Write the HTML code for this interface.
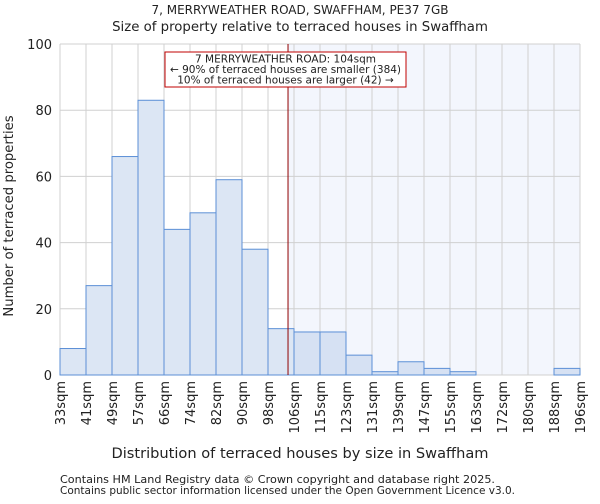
<!DOCTYPE html>
<html><head><meta charset="utf-8"><style>
body{margin:0;background:#fff;font-family:"DejaVu Sans","Liberation Sans",sans-serif;}
svg text{font-family:"DejaVu Sans","Liberation Sans",sans-serif;fill:#222;}
</style></head><body>
<svg id="chart" width="600" height="500" xmlns="http://www.w3.org/2000/svg">
<text x="300" y="14" text-anchor="middle" font-size="12">7, MERRYWEATHER ROAD, SWAFFHAM, PE37 7GB</text>
<text x="300" y="31" text-anchor="middle" font-size="13.3">Size of property relative to terraced houses in Swaffham</text>
<g id="plot"></g>
<text x="300" y="458" text-anchor="middle" font-size="14.6">Distribution of terraced houses by size in Swaffham</text>
<text transform="translate(13,216) rotate(-90)" text-anchor="middle" font-size="13.2">Number of terraced properties</text>
<text x="60" y="483" font-size="10.5" fill="#444" textLength="435" lengthAdjust="spacingAndGlyphs">Contains HM Land Registry data © Crown copyright and database right 2025.</text>
<text x="60" y="494" font-size="10.5" fill="#444" textLength="455" lengthAdjust="spacingAndGlyphs">Contains public sector information licensed under the Open Government Licence v3.0.</text>
</svg>
<script>
const categories=["33sqm","41sqm","49sqm","57sqm","66sqm","74sqm","82sqm","90sqm","98sqm","106sqm","115sqm","123sqm","131sqm","139sqm","147sqm","155sqm","163sqm","172sqm","180sqm","188sqm","196sqm"];
const counts=[8,27,66,83,44,49,59,38,14,13,13,6,1,4,2,1,0,0,0,2];
const yTicks=[0,20,40,60,80,100];
const markerBin=8.77;
const X0=60,X1=580,Y0=375,Y1=44;
const nb=counts.length;
const bw=(X1-X0)/nb;
const xs=i=>X0+i*bw;
const ys=v=>Y0-(v/100)*(Y0-Y1);
const NS="http://www.w3.org/2000/svg";
const g=document.getElementById('plot');
function mk(t,a){const e=document.createElementNS(NS,t);for(const k in a)e.setAttribute(k,a[k]);g.appendChild(e);return e;}
const mx=xs(markerBin);
let r=mk('rect',{x:mx,y:Y1,width:X1-mx,height:Y0-Y1,fill:'#f3f6fd'});


for(let i=0;i<=nb;i++){let l=mk('line',{x1:xs(i),x2:xs(i),y1:Y1,y2:Y0,stroke:'#d0d0d0','stroke-width':1});

}
yTicks.forEach(t=>{let l=mk('line',{x1:X0,x2:X1,y1:ys(t),y2:ys(t),stroke:'#d0d0d0','stroke-width':1});


let tx=mk('text',{x:X0-8,y:ys(t)+5,'text-anchor':'end','font-size':13});tx.textContent=t;

});
counts.forEach((c,i)=>{const right=xs(i)>=mx-1;
let b=mk('rect',{x:xs(i),y:ys(c),width:bw,height:Y0-ys(c),fill:right?'#d6e1f3':'#dce6f4',stroke:'#5b8fd6','stroke-width':1});

});
categories.forEach((c,i)=>{let t=mk('text',{transform:`translate(${xs(i)+5},381) rotate(-90)`,'text-anchor':'end','font-size':13});t.textContent=c;

});
let ml=mk('line',{x1:mx,x2:mx,y1:Y1,y2:Y0,stroke:'#900000','stroke-width':1});


let ab=mk('rect',{x:165,y:52,width:241,height:35,fill:'#fff',stroke:'#c00000','stroke-width':1});


["7 MERRYWEATHER ROAD: 104sqm","← 90% of terraced houses are smaller (384)","10% of terraced houses are larger (42) →"].forEach((s,k)=>{
let t=mk('text',{x:285.5,y:62.5+k*10.5,'text-anchor':'middle','font-size':10.5});t.textContent=s;

});
</script>
</body></html>
